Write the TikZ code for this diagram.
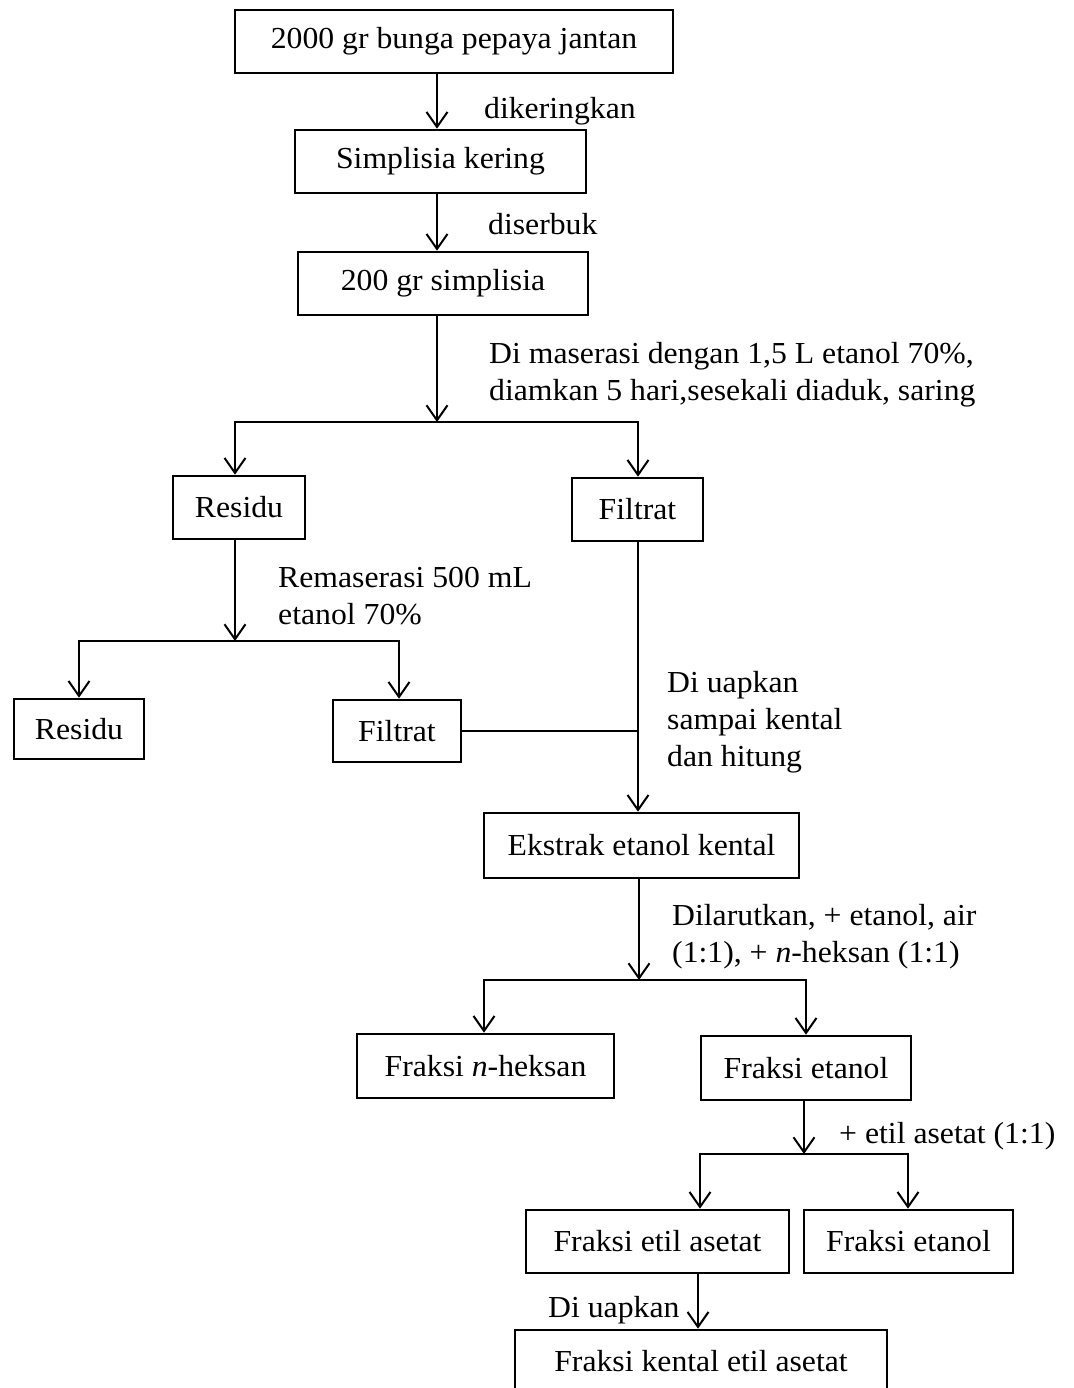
\documentclass[tikz,border=0pt]{standalone}
\usepackage{fontspec}
\setmainfont{Liberation Serif}[FakeStretch=1.04]
\usetikzlibrary{arrows.meta}
\newcommand\figfont{\fontsize{30.5}{37}\selectfont}
\begin{document}
\begin{tikzpicture}[x=1pt,y=-1pt,
  box/.style={draw, line width=2.6pt, inner sep=0pt, font=\figfont},
  lbl/.style={anchor=base west, inner sep=0pt, align=left, font=\figfont},
  conn/.style={line width=2pt},
  arr/.style={conn, -{Straight Barb[length=15pt,width=21pt,line width=2pt]}}]
\useasboundingbox (0,0) rectangle (1073,1388);
\clip (0,0) rectangle (1073,1388);
% boxes
\node[box, minimum width=438pt, minimum height=63pt] (b1) at (454,41.5) {2000 gr bunga pepaya jantan};
\node[box, minimum width=291pt, minimum height=63pt] (b2) at (440.5,161.5) {Simplisia kering};
\node[box, minimum width=290pt, minimum height=63pt] (b3) at (443,283.5) {200 gr simplisia};
\node[box, minimum width=132pt, minimum height=63pt] (res1) at (239,507.5) {Residu};
\node[box, minimum width=131pt, minimum height=63pt] (fil1) at (637.5,509.5) {Filtrat};
\node[box, minimum width=130pt, minimum height=60pt] (res2) at (79,729) {Residu};
\node[box, minimum width=128pt, minimum height=62pt] (fil2) at (397,731) {Filtrat};
\node[box, minimum width=315pt, minimum height=65pt] (ek) at (641.5,845.5) {Ekstrak etanol kental};
\node[box, minimum width=257pt, minimum height=64pt] (fnh) at (485.5,1066) {Fraksi \textit{n}-heksan};
\node[box, minimum width=210pt, minimum height=64pt] (fe1) at (806,1068) {Fraksi etanol};
\node[box, minimum width=263pt, minimum height=63pt] (fea) at (657.5,1241.5) {Fraksi etil asetat};
\node[box, minimum width=209pt, minimum height=63pt] (fe2) at (908.5,1241.5) {Fraksi etanol};
\node[box, minimum width=372pt, minimum height=63pt] (fk) at (701,1361.5) {Fraksi kental etil asetat};
% coordinates
\coordinate (c1) at (437,0);
\coordinate (s1) at (437,422);
\coordinate (s1l) at (235,422);
\coordinate (s1r) at (638,422);
\coordinate (s2) at (235,641);
\coordinate (s2l) at (79,641);
\coordinate (s2r) at (399,641);
\coordinate (c2) at (638,0);
\coordinate (s3) at (639,980);
\coordinate (s3l) at (484,980);
\coordinate (s3r) at (806,980);
\coordinate (s4) at (804,1154);
\coordinate (s4l) at (700,1154);
\coordinate (s4r) at (908,1154);
\coordinate (c3) at (698,0);
% connectors
\draw[arr] (b1.south -| c1) -- (b2.north -| c1);
\draw[arr] (b2.south -| c1) -- (b3.north -| c1);
\draw[arr] (b3.south -| s1) -- (s1);
\draw[arr] (s1) -| (s1l |- res1.north);
\draw[arr] (s1) -| (s1r |- fil1.north);
\draw[arr] (res1.south -| s2) -- (s2);
\draw[arr] (s2) -| (s2l |- res2.north);
\draw[arr] (s2) -| (s2r |- fil2.north);
\draw[arr] (fil1.south -| c2) -- (ek.north -| c2);
\draw[conn] (fil2.east) -- (fil2.east -| c2);
\draw[arr] (ek.south -| s3) -- (s3);
\draw[arr] (s3) -| (s3l |- fnh.north);
\draw[arr] (s3) -| (s3r |- fe1.north);
\draw[arr] (fe1.south -| s4) -- (s4);
\draw[arr] (s4) -| (s4l |- fea.north);
\draw[arr] (s4) -| (s4r |- fe2.north);
\draw[arr] (fea.south -| c3) -- (fk.north -| c3);
% labels (multi-line nodes: base = last line)
\node[lbl] (l1) at (484,119) {dikeringkan};
\node[lbl] (l2) at (488,235) {diserbuk};
\node[lbl] (l3) at (489,400) {Di maserasi dengan 1,5 L etanol 70\%,\\diamkan 5 hari,sesekali diaduk, saring};
\node[lbl] (l4) at (278,624) {Remaserasi 500 mL\\etanol 70\%};
\node[lbl] (l5) at (667,766) {Di uapkan\\sampai kental\\dan hitung};
\node[lbl] (l6) at (672,962) {Dilarutkan, + etanol, air\\(1:1), + \textit{n}-heksan (1:1)};
\node[lbl] (l7) at (839,1143) {+ etil asetat (1:1)};
\node[lbl] (l8) at (548,1317) {Di uapkan};
\end{tikzpicture}
\end{document}
